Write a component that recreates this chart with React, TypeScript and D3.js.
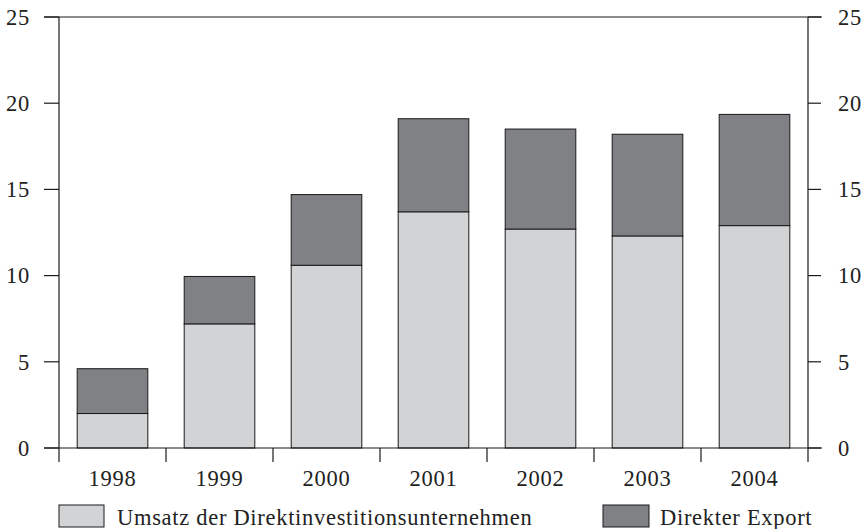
import React from "react";
import * as d3 from "d3";

const years = ["1998", "1999", "2000", "2001", "2002", "2003", "2004"];
const umsatz = [2.0, 7.2, 10.6, 13.7, 12.7, 12.3, 12.9];
const export_ = [2.6, 2.75, 4.1, 5.4, 5.8, 5.9, 6.45];
const yTicks = [0, 5, 10, 15, 20, 25];
const legendLabels = ["Umsatz der Direktinvestitionsunternehmen", "Direkter Export"];

const W = 864, H = 529;
const left = 59, right = 808, top = 17, bottom = 448;
const lightFill = "#d2d3d5";
const darkFill = "#808184";
const stroke = "#1a1a1a";
const textStyle: React.CSSProperties = { fontFamily: "Liberation Serif, serif", fontSize: 22.5, letterSpacing: 0.7 };

export default function App() {
  const x = d3.scaleBand<string>().domain(years).range([left, right]).paddingInner(0.34).paddingOuter(0.17);
  const y = d3.scaleLinear().domain([0, 25]).range([bottom, top]);
  const step = x.step();
  const boundaries = d3.range(years.length + 1).map((i) => left + i * step);

  return (
    <svg width={W} height={H} style={{ position: "absolute", left: 0, top: 0 }}>
      {years.map((yr, i) => {
        const bx = x(yr)!;
        const bw = x.bandwidth();
        const total = umsatz[i] + export_[i];
        return (
          <g key={yr}>
            <rect x={bx} y={y(umsatz[i])} width={bw} height={y(0) - y(umsatz[i])} fill={lightFill} stroke={stroke} strokeWidth={1} />
            <rect x={bx} y={y(total)} width={bw} height={y(umsatz[i]) - y(total)} fill={darkFill} stroke={stroke} strokeWidth={1} />
          </g>
        );
      })}
      <line x1={left} x2={left} y1={top} y2={bottom} stroke={stroke} strokeWidth={1.2} />
      <line x1={right} x2={right} y1={top} y2={bottom} stroke={stroke} strokeWidth={1.2} />
      <line x1={44} x2={822} y1={y(25)} y2={y(25)} stroke={stroke} strokeWidth={1.2} />
      <line x1={44} x2={822} y1={y(0)} y2={y(0)} stroke={stroke} strokeWidth={1.2} />
      {yTicks.map((t) => (
        <g key={t}>
          <line x1={44} x2={left} y1={y(t)} y2={y(t)} stroke={stroke} strokeWidth={1.2} />
          <line x1={right} x2={821} y1={y(t)} y2={y(t)} stroke={stroke} strokeWidth={1.2} />
          <text x={30} y={y(t)} dy="0.35em" textAnchor="end" style={textStyle} fill="#222">{t}</text>
          <text x={838} y={y(t)} dy="0.35em" textAnchor="start" style={textStyle} fill="#222">{t}</text>
        </g>
      ))}
      {boundaries.map((bx, i) => (
        <line key={i} x1={bx} x2={bx} y1={bottom} y2={462} stroke={stroke} strokeWidth={1.2} />
      ))}
      {years.map((yr) => (
        <text key={yr} x={x(yr)! + x.bandwidth() / 2} y={486} textAnchor="middle" style={textStyle} fill="#222">{yr}</text>
      ))}
      <rect x={59} y={505} width={45} height={22} fill={lightFill} stroke={stroke} strokeWidth={1} />
      <text x={117} y={525} style={textStyle} fill="#222">{legendLabels[0]}</text>
      <rect x={603} y={505} width={46} height={22} fill={darkFill} stroke={stroke} strokeWidth={1} />
      <text x={660} y={525} style={textStyle} fill="#222">{legendLabels[1]}</text>
    </svg>
  );
}
